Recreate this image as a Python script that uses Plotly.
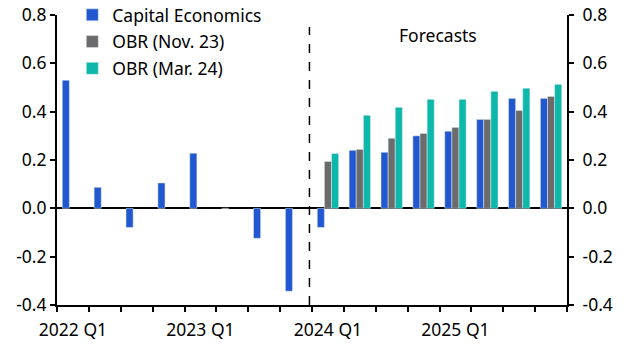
import plotly.graph_objects as go

quarters = ["2022 Q1", "2022 Q2", "2022 Q3", "2022 Q4",
            "2023 Q1", "2023 Q2", "2023 Q3", "2023 Q4",
            "2024 Q1", "2024 Q2", "2024 Q3", "2024 Q4",
            "2025 Q1", "2025 Q2", "2025 Q3", "2025 Q4"]
tick_labels = ["2022 Q1", "", "", "", "2023 Q1", "", "", "",
               "2024 Q1", "", "", "", "2025 Q1", "", "", ""]
capital_economics = [0.53, 0.087, -0.079, 0.105, 0.228, 0.0, -0.124, -0.343,
                     -0.079, 0.24, 0.232, 0.30, 0.319, 0.368, 0.455, 0.455]
obr_nov23 = [None]*8 + [0.194, 0.244, 0.29, 0.31, 0.335, 0.368, 0.405, 0.463]
obr_mar24 = [None]*8 + [0.227, 0.385, 0.418, 0.451, 0.451, 0.484, 0.497, 0.513]
y_ticks = [-0.4, -0.2, 0.0, 0.2, 0.4, 0.6, 0.8]
y_ticktext = ["-0.4", "-0.2", "0.0", "0.2", "0.4", "0.6", "0.8"]

FONT = "Noto Sans"
FS = 17.5
fig = go.Figure()
fig.add_bar(x=quarters, y=capital_economics, name="Capital Economics", marker_color="#2158CF", legendgroup="a")
fig.add_bar(x=quarters, y=obr_nov23, name="OBR (Nov. 23)", marker_color="#6B6B6B", legendgroup="b")
fig.add_bar(x=quarters, y=obr_mar24, name="OBR (Mar. 24)", marker_color="#0DB8AA", legendgroup="c")
fig.add_scatter(x=quarters, y=[None]*len(quarters), yaxis="y2", showlegend=False, hoverinfo="skip")

axis_common = dict(ticks="outside", ticklen=5, tickwidth=2, tickcolor="black",
                   showline=True, linewidth=2, linecolor="black", showgrid=False,
                   automargin=False, tickfont=dict(size=FS))
fig.update_layout(
    width=631, height=357,
    margin=dict(l=57, r=64, t=0, b=52, autoexpand=False),
    plot_bgcolor="white", paper_bgcolor="white",
    barmode="group", bargap=0.33, bargroupgap=0,
    font=dict(family=FONT, size=FS, color="black"),
    showlegend=True,
    legend=dict(x=0.03, y=1.01, xanchor="left", yanchor="top", bgcolor="rgba(0,0,0,0)",
                font=dict(size=FS), traceorder="grouped", tracegroupgap=1, itemwidth=30),
    xaxis=dict(type="category", range=[-0.5, 15.5], tickmode="array", tickvals=quarters, ticktext=tick_labels,
               tickson="boundaries", zeroline=False, tickangle=0, ticklabelstandoff=8, **axis_common),
    yaxis=dict(range=[-0.4, 0.8], tickvals=y_ticks, ticktext=y_ticktext, domain=[0, 290/305],
               zeroline=True, zerolinewidth=2, zerolinecolor="black", **axis_common),
    yaxis2=dict(range=[-0.4, 0.8], tickvals=y_ticks, ticktext=y_ticktext, overlaying="y", side="right",
                zeroline=False, ticklabelstandoff=5, **axis_common),
    shapes=[dict(type="line", xref="x", yref="y", x0=7.42, x1=7.42, y0=-0.4, y1=0.75,
                 line=dict(color="black", width=1.5, dash="dash"))],
    annotations=[dict(text="Forecasts", xref="x", yref="y", x=11.45, y=0.716, showarrow=False,
                      font=dict(size=FS), xanchor="center", yanchor="middle")],
)
fig.write_html("out.html", config={"displayModeBar": False},
               post_script="document.body.style.margin='0px';")
